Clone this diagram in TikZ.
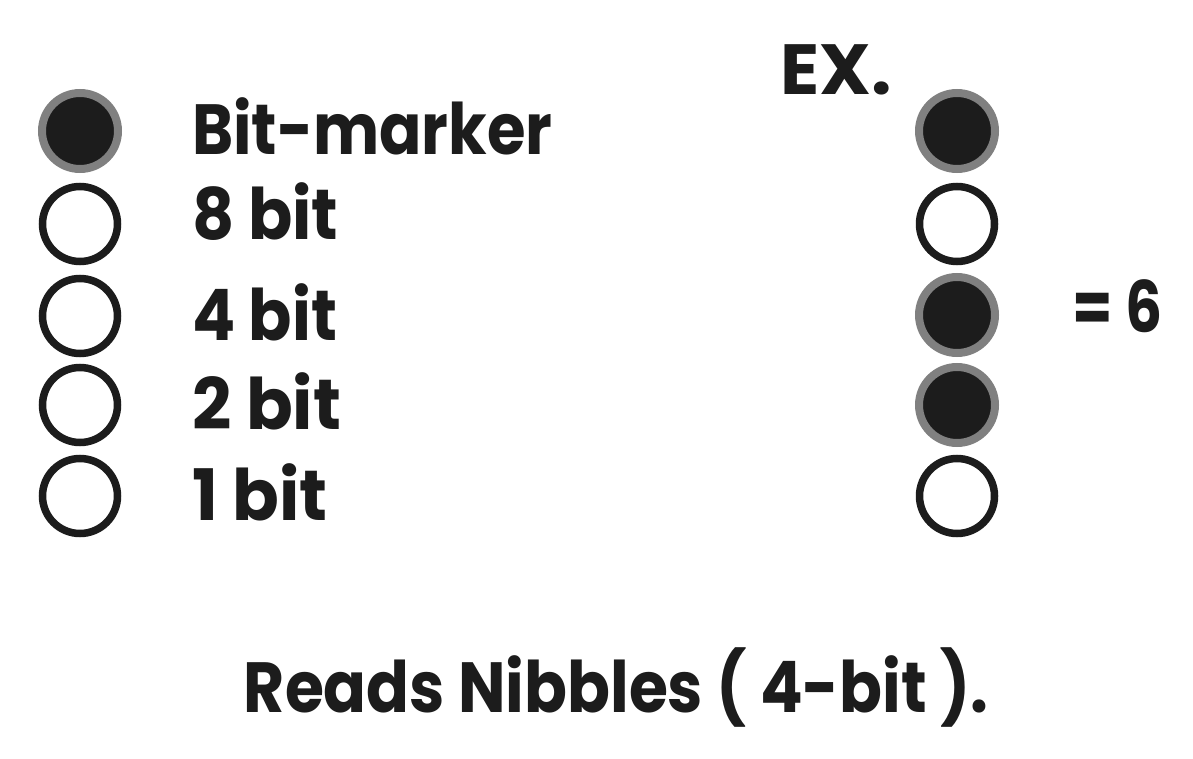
\documentclass[tikz,border=0pt]{standalone}
\usepackage{fontspec}
\setmainfont{Poppins}[UprightFont=* Bold]
\definecolor{ink}{HTML}{1C1C1C}
\definecolor{ring}{HTML}{808080}
\begin{document}
\begin{tikzpicture}[x=1pt,y=-1pt,
  lbl/.style={font=\fontsize{71}{71}\selectfont, text=ink, inner sep=0pt},
  on/.style={circle, minimum size=76pt, fill=ink, draw=ring, line width=8pt, inner sep=0pt},
  off/.style={circle, minimum size=75pt, fill=white, draw=ink, line width=7.5pt, inner sep=0pt}]
\useasboundingbox[fill=white] (0,0) rectangle (1193,759);
% legend
\node[on]  (l1) at (80,131) {};
\node[off] (l2) at (80,224) {};
\node[off] (l3) at (80,316) {};
\node[off] (l4) at (80,405) {};
\node[off] (l5) at (80,496) {};
\node[lbl, anchor=base west, xscale=0.88] (t1) at (192,155) {Bit-marker};
\node[lbl, anchor=base west, xscale=0.92] (t2) at (192,240) {8 bit};
\node[lbl, anchor=base west, xscale=0.90] (t3) at (192,340) {4 bit};
\node[lbl, anchor=base west, xscale=0.97] (t4) at (192,429) {2 bit};
\node[lbl, anchor=base west, xscale=0.97] (t5) at (192,520) {1 bit};
% example
\node[lbl, anchor=base west, xscale=1.02] (ex) at (780,95) {EX.};
\node[on]  (r1) at (957,131) {};
\node[off] (r2) at (957,224) {};
\node[on]  (r3) at (957,315) {};
\node[on]  (r4) at (957,405) {};
\node[off] (r5) at (957,496) {};
\node[lbl, anchor=base west, xscale=0.82] (eq) at (1072,332) {= 6};
% caption
\node[lbl, anchor=base, xscale=0.89] (cap) at (616,712) {Reads Nibbles ( 4-bit ).};
\end{tikzpicture}
\end{document}
